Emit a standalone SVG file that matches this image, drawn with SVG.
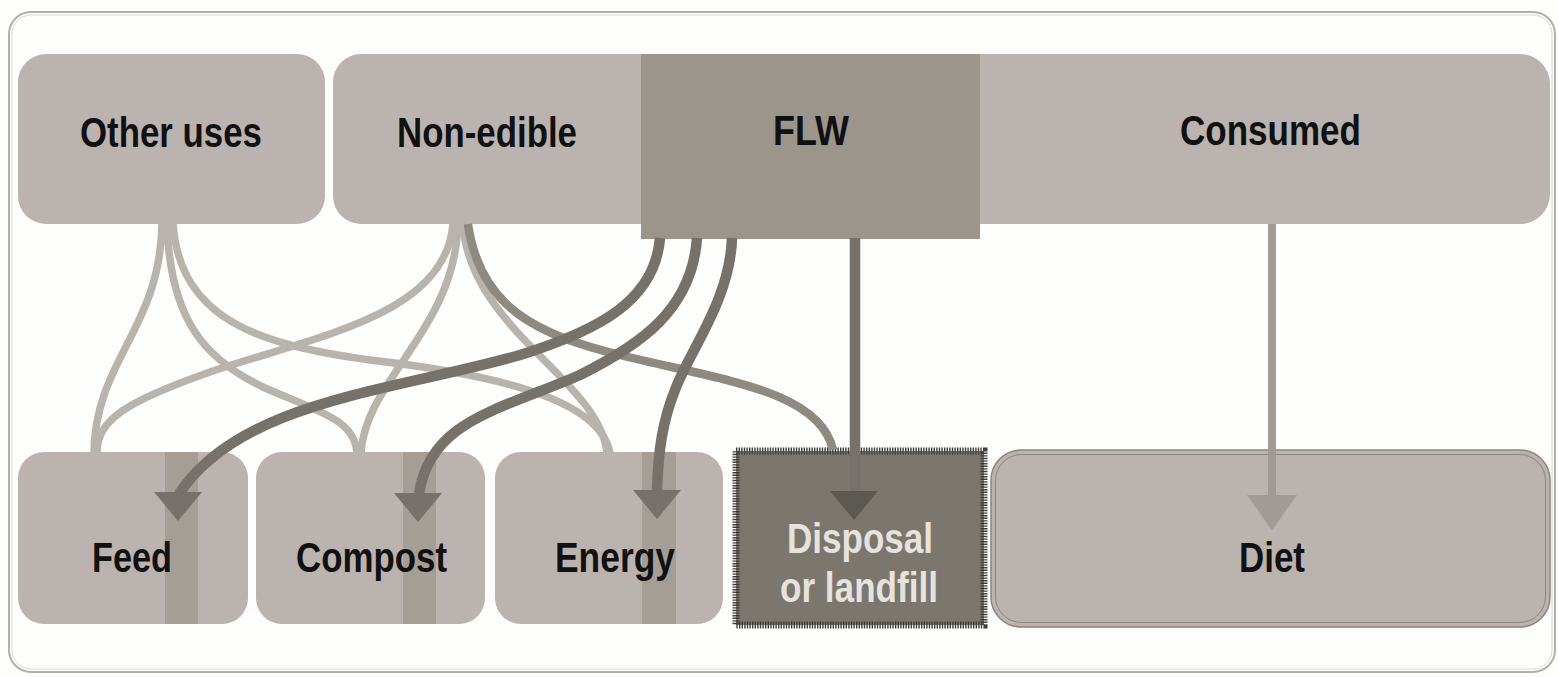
<svg xmlns="http://www.w3.org/2000/svg" width="1558" height="677" viewBox="0 0 1558 677">
<style>
.bg{fill:#fdfdfb}
.box{fill:#bbb3af}
.stripe{fill:#a59e97}
.lbl{font-family:"Liberation Sans",Arial,sans-serif;font-weight:bold;font-size:42px;fill:#111111;text-anchor:start}
.wl{fill:#e6e2de}
.lt{fill:none;stroke:#b8b3ad;stroke-width:7.5;stroke-linecap:butt}
.md{fill:none;stroke:#8e8981;stroke-width:8.5}
.dk{fill:none;stroke:#76716a;stroke-width:10.5}
.dkf{fill:#76716a}
.ltf{fill:#a09b96}
</style>
<defs>
<path id="ah" d="M-24,0 L24,0 L0,29 Z"/>
</defs>
<rect class="bg" x="0" y="0" width="1558" height="677"/>
<rect x="9" y="12" width="1546" height="660" rx="22" fill="#fdfdfb" stroke="#b0b0ad" stroke-width="2"/>
<rect x="12" y="15" width="1540" height="654" rx="19" fill="none" stroke="#d8d8d4" stroke-width="1"/>

<g id="node-other-uses">
<rect class="box" x="18" y="54" width="307" height="170" rx="28"/>
<text class="lbl" x="80" y="147" textLength="182" lengthAdjust="spacingAndGlyphs">Other uses</text>
</g>
<g id="node-non-edible">
<path class="box" d="M361,54 H660 V224 H361 A28,28 0 0 1 333,196 V82 A28,28 0 0 1 361,54 Z"/>
<text class="lbl" x="397" y="147" textLength="180" lengthAdjust="spacingAndGlyphs">Non-edible</text>
</g>
<g id="node-consumed">
<path class="box" d="M960,54 H1520 A30,30 0 0 1 1550,84 V194 A30,30 0 0 1 1520,224 H960 Z"/>
<text class="lbl" x="1180" y="145" textLength="181" lengthAdjust="spacingAndGlyphs">Consumed</text>
</g>
<g id="node-flw">
<rect x="641" y="54" width="339" height="185" fill="#9c958c"/>
<text class="lbl" x="773" y="145" textLength="76" lengthAdjust="spacingAndGlyphs">FLW</text>
</g>

<g id="node-feed">
<rect class="box" x="18" y="452" width="230" height="172" rx="26"/>
<rect class="stripe" x="165" y="452" width="33" height="172"/>
<text class="lbl" x="92" y="572" textLength="80" lengthAdjust="spacingAndGlyphs">Feed</text>
</g>
<g id="node-compost">
<rect class="box" x="256" y="452" width="229" height="172" rx="26"/>
<rect class="stripe" x="403" y="452" width="33" height="172"/>
<text class="lbl" x="296" y="572" textLength="151" lengthAdjust="spacingAndGlyphs">Compost</text>
</g>
<g id="node-energy">
<rect class="box" x="495" y="452" width="228" height="172" rx="26"/>
<rect class="stripe" x="642" y="452" width="34" height="172"/>
<text class="lbl" x="555" y="572" textLength="120" lengthAdjust="spacingAndGlyphs">Energy</text>
</g>
<g id="node-disposal">
<rect x="736" y="451" width="248" height="174" fill="#7b776f" stroke="#3f3d3a" stroke-width="7" stroke-dasharray="1.4 1.2"/>
<text class="lbl wl" x="787" y="553" textLength="146" lengthAdjust="spacingAndGlyphs">Disposal</text>
<text class="lbl wl" x="780" y="602" textLength="158" lengthAdjust="spacingAndGlyphs">or landfill</text>
</g>
<g id="node-diet">
<rect class="box" x="991" y="450" width="559" height="177" rx="30" stroke="#8a8580" stroke-width="1.5"/>
<rect x="995.5" y="454.5" width="550" height="168" rx="26" fill="none" stroke="#8a8580" stroke-width="1"/>
<text class="lbl" x="1239" y="572" textLength="66" lengthAdjust="spacingAndGlyphs">Diet</text>
</g>

<g id="connectors">
<!-- Other uses -->
<path class="lt" d="M162,224 C160,330 95,360 94,453"/>
<path class="lt" d="M167,224 C170,320 205,360 265,388 C320,412 355,420 357,453"/>
<path class="lt" d="M173,224 C180,320 260,345 370,360 C500,375 600,400 610,453"/>
<!-- Non-edible -->
<path class="lt" d="M453,224 C445,315 320,335 210,372 C125,402 97,420 97,453"/>
<path class="lt" d="M458,224 C455,330 365,380 361,453"/>
<path class="lt" d="M463,224 C470,330 600,380 607,453"/>
<path class="md" d="M468,224 C480,310 540,335 620,355 C720,380 820,390 833,450"/>
<!-- FLW -->
<path class="dk" d="M660,238 C655,300 600,330 520,355 C400,390 240,400 179,494"/>
<path class="dk" d="M697,238 C692,310 640,345 580,375 C500,410 430,420 419,494"/>
<path class="dk" d="M732,238 C730,300 690,350 675,390 C663,420 658,450 657,492"/>
<path class="dk" d="M855,238 V493" stroke="#6a665f"/>
<use href="#ah" class="dkf" x="178" y="492"/>
<use href="#ah" class="dkf" x="418" y="493"/>
<use href="#ah" class="dkf" x="657" y="490"/>
<use href="#ah" x="854" y="491" fill="#5c5852"/>
<!-- Consumed -->
<path fill="none" stroke="#a09b96" stroke-width="8" d="M1272,224 V496"/>
<path class="ltf" d="M1247,495 L1297,495 L1272,530 Z"/>
</g>
</svg>
